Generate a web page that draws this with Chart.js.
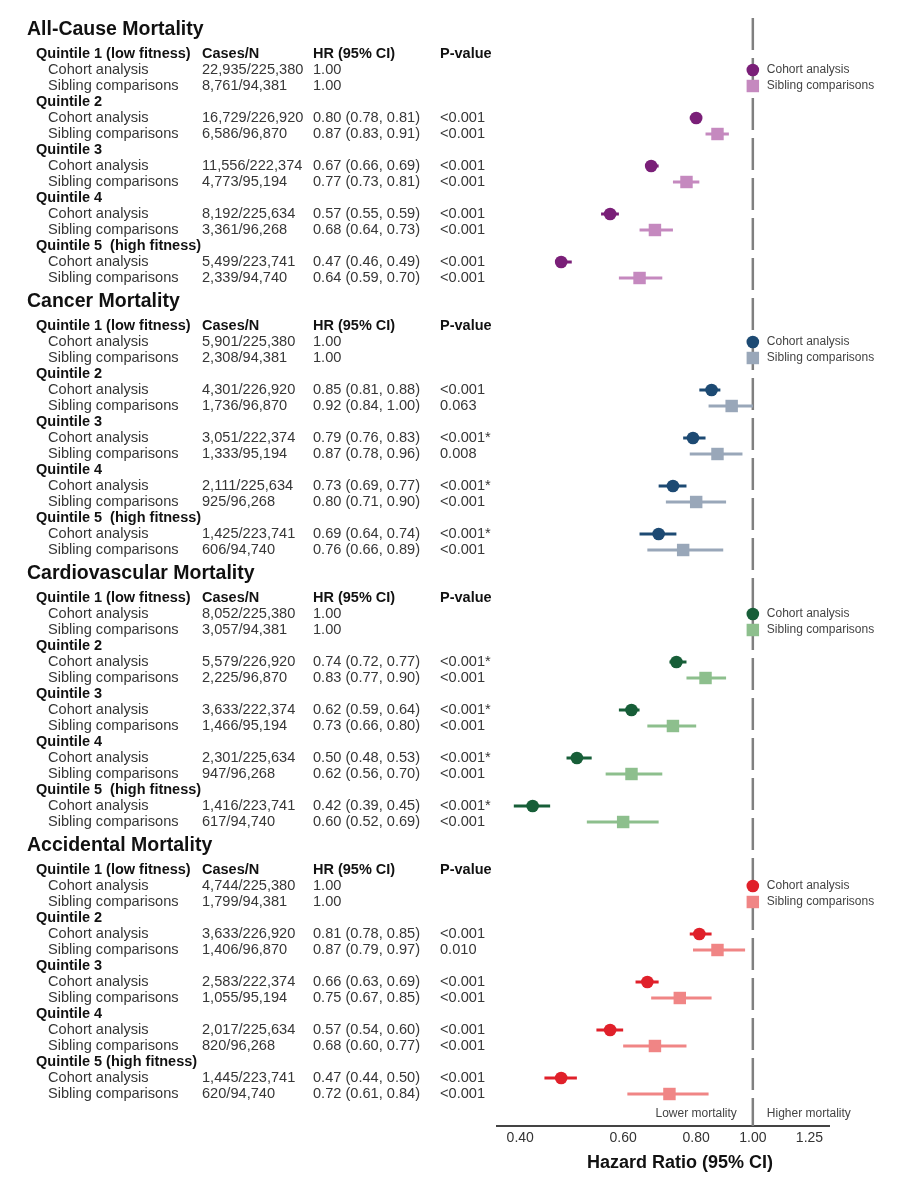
<!DOCTYPE html>
<html>
<head>
<meta charset="utf-8">
<script src="https://cdn.jsdelivr.net/npm/chart.js@4.4.0/dist/chart.umd.min.js"></script>
<style>
  body { margin: 0; background: #fff; }
  canvas { display: block; }
</style>
</head>
<body>
<canvas id="forest" width="913" height="1200"></canvas>
<script>
// ---------------- data ----------------
const sectionTitles = ['All-Cause Mortality', 'Cancer Mortality', 'Cardiovascular Mortality', 'Accidental Mortality']
const quintileNames = ['Quintile 1 (low fitness)', 'Quintile 2', 'Quintile 3', 'Quintile 4']
const quintile5Names = ['Quintile 5  (high fitness)', 'Quintile 5  (high fitness)', 'Quintile 5  (high fitness)', 'Quintile 5 (high fitness)']
const rowNames = ['Cohort analysis', 'Sibling comparisons']
const columnHeads = ['Cases/N', 'HR (95% CI)', 'P-value']
const xTicks = [0.40, 0.60, 0.80, 1.00, 1.25]

const cohortCases = [
  ['22,935/225,380', '16,729/226,920', '11,556/222,374', '8,192/225,634', '5,499/223,741'],
  ['5,901/225,380', '4,301/226,920', '3,051/222,374', '2,111/225,634', '1,425/223,741'],
  ['8,052/225,380', '5,579/226,920', '3,633/222,374', '2,301/225,634', '1,416/223,741'],
  ['4,744/225,380', '3,633/226,920', '2,583/222,374', '2,017/225,634', '1,445/223,741']
]
const siblingCases = [
  ['8,761/94,381', '6,586/96,870', '4,773/95,194', '3,361/96,268', '2,339/94,740'],
  ['2,308/94,381', '1,736/96,870', '1,333/95,194', '925/96,268', '606/94,740'],
  ['3,057/94,381', '2,225/96,870', '1,466/95,194', '947/96,268', '617/94,740'],
  ['1,799/94,381', '1,406/96,870', '1,055/95,194', '820/96,268', '620/94,740']
]
const cohortHR = [[1.00, 0.80, 0.67, 0.57, 0.47], [1.00, 0.85, 0.79, 0.73, 0.69], [1.00, 0.74, 0.62, 0.50, 0.42], [1.00, 0.81, 0.66, 0.57, 0.47]]
const cohortLo = [[null, 0.78, 0.66, 0.55, 0.46], [null, 0.81, 0.76, 0.69, 0.64], [null, 0.72, 0.59, 0.48, 0.39], [null, 0.78, 0.63, 0.54, 0.44]]
const cohortHi = [[null, 0.81, 0.69, 0.59, 0.49], [null, 0.88, 0.83, 0.77, 0.74], [null, 0.77, 0.64, 0.53, 0.45], [null, 0.85, 0.69, 0.60, 0.50]]
const siblingHR = [[1.00, 0.87, 0.77, 0.68, 0.64], [1.00, 0.92, 0.87, 0.80, 0.76], [1.00, 0.83, 0.73, 0.62, 0.60], [1.00, 0.87, 0.75, 0.68, 0.72]]
const siblingLo = [[null, 0.83, 0.73, 0.64, 0.59], [null, 0.84, 0.78, 0.71, 0.66], [null, 0.77, 0.66, 0.56, 0.52], [null, 0.79, 0.67, 0.60, 0.61]]
const siblingHi = [[null, 0.91, 0.81, 0.73, 0.70], [null, 1.00, 0.96, 0.90, 0.89], [null, 0.90, 0.80, 0.70, 0.69], [null, 0.97, 0.85, 0.77, 0.84]]
const cohortP = [
  ['', '<0.001', '<0.001', '<0.001', '<0.001'],
  ['', '<0.001', '<0.001*', '<0.001*', '<0.001*'],
  ['', '<0.001*', '<0.001*', '<0.001*', '<0.001*'],
  ['', '<0.001', '<0.001', '<0.001', '<0.001']
]
const siblingP = [
  ['', '<0.001', '<0.001', '<0.001', '<0.001'],
  ['', '0.063', '0.008', '<0.001', '<0.001'],
  ['', '<0.001', '<0.001', '<0.001', '<0.001'],
  ['', '0.010', '<0.001', '<0.001', '<0.001']
]

// ---------------- styling ----------------
const cohortColors = ['#7a1f78', '#1d4a73', '#175e38', '#e0202a']
const siblingColors = ['#c589bf', '#99a7b9', '#8dbf8d', '#f08585']
const FONT = '"Liberation Sans", Arial, Helvetica, sans-serif'
const SECTION_ROWS = 17

// row positions (in row units) inside the whole figure
const titleRow = (s) => s * SECTION_ROWS
const labelRow = (s, q) => s * SECTION_ROWS + 1.5 + 3 * q
const cohortRow = (s, q) => labelRow(s, q) + 1
const siblingRow = (s, q) => labelRow(s, q) + 2

// ---------------- datasets ----------------
const datasets = []

// reference line at HR = 1
datasets.push({
  data: [{ x: 1, y: -0.75 }, { x: 1, y: 68.5 }],
  showLine: true,
  borderColor: '#808080',
  borderWidth: 2.5,
  borderDash: [32, 8],
  pointRadius: 0,
  order: 3
})

sectionTitles.forEach((title, s) => {
  const cohortCI = []
  const siblingCI = []
  for (let q = 0; q < 5; q++) {
    if (cohortLo[s][q] != null) {
      cohortCI.push({ x: cohortLo[s][q], y: cohortRow(s, q) }, { x: cohortHi[s][q], y: cohortRow(s, q) }, { x: NaN, y: NaN })
    }
    if (siblingLo[s][q] != null) {
      siblingCI.push({ x: siblingLo[s][q], y: siblingRow(s, q) }, { x: siblingHi[s][q], y: siblingRow(s, q) }, { x: NaN, y: NaN })
    }
  }
  datasets.push({
    data: siblingCI, showLine: true, spanGaps: false, pointRadius: 0,
    borderColor: siblingColors[s], borderWidth: 3, order: 2
  })
  datasets.push({
    data: cohortCI, showLine: true, spanGaps: false, pointRadius: 0,
    borderColor: cohortColors[s], borderWidth: 3, order: 2
  })
  datasets.push({
    data: siblingHR[s].map((v, q) => ({ x: v, y: siblingRow(s, q) })),
    pointStyle: 'rect', pointRadius: 8.8, borderWidth: 0,
    backgroundColor: siblingColors[s], borderColor: siblingColors[s], order: 1
  })
  datasets.push({
    data: cohortHR[s].map((v, q) => ({ x: v, y: cohortRow(s, q) })),
    pointStyle: 'circle', pointRadius: 6.3, borderWidth: 0,
    backgroundColor: cohortColors[s], borderColor: cohortColors[s], order: 0
  })
})

// ---------------- table text plugin ----------------
const fmtHR = (hr, lo, hi) => hr.toFixed(2) + (lo != null ? ` (${lo.toFixed(2)}, ${hi.toFixed(2)})` : '')

const tablePlugin = {
  id: 'tableText',
  afterDraw(chart) {
    const ctx = chart.ctx
    const y = chart.scales.y
    const x = chart.scales.x
    const refX = x.getPixelForValue(1)
    ctx.save()
    ctx.textBaseline = 'middle'
    ctx.textAlign = 'left'

    sectionTitles.forEach((title, s) => {
      ctx.fillStyle = '#111'
      ctx.font = `bold 19.5px ${FONT}`
      ctx.fillText(title, 27, y.getPixelForValue(titleRow(s)))

      for (let q = 0; q < 5; q++) {
        const ly = y.getPixelForValue(labelRow(s, q))
        ctx.font = `bold 14.5px ${FONT}`
        ctx.fillStyle = '#111'
        ctx.fillText(q < 4 ? quintileNames[q] : quintile5Names[s], 36, ly)
        if (q === 0) {
          ctx.fillText(columnHeads[0], 202, ly)
          ctx.fillText(columnHeads[1], 313, ly)
          ctx.fillText(columnHeads[2], 440, ly)
        }

        ctx.font = `14.6px ${FONT}`
        ctx.fillStyle = '#363636'
        const cy = y.getPixelForValue(cohortRow(s, q))
        ctx.fillText(rowNames[0], 48, cy)
        ctx.fillText(cohortCases[s][q], 202, cy)
        ctx.fillText(fmtHR(cohortHR[s][q], cohortLo[s][q], cohortHi[s][q]), 313, cy)
        ctx.fillText(cohortP[s][q], 440, cy)

        const sy = y.getPixelForValue(siblingRow(s, q))
        ctx.fillText(rowNames[1], 48, sy)
        ctx.fillText(siblingCases[s][q], 202, sy)
        ctx.fillText(fmtHR(siblingHR[s][q], siblingLo[s][q], siblingHi[s][q]), 313, sy)
        ctx.fillText(siblingP[s][q], 440, sy)
      }

      // labels next to the reference points
      ctx.font = `12px ${FONT}`
      ctx.fillStyle = '#444'
      ctx.fillText(rowNames[0], refX + 14, y.getPixelForValue(cohortRow(s, 0)))
      ctx.fillText(rowNames[1], refX + 14, y.getPixelForValue(siblingRow(s, 0)))
    })

    // direction labels above the axis
    const bottom = chart.chartArea.bottom
    ctx.font = `12px ${FONT}`
    ctx.fillStyle = '#444'
    ctx.textAlign = 'right'
    ctx.fillText('Lower mortality', refX - 16, bottom - 12)
    ctx.textAlign = 'left'
    ctx.fillText('Higher mortality', refX + 14, bottom - 12)

    // axis title
    ctx.textAlign = 'center'
    ctx.font = `bold 18px ${FONT}`
    ctx.fillStyle = '#111'
    ctx.fillText('Hazard Ratio (95% CI)', 680, bottom + 37)
    ctx.restore()
  }
}

new Chart(document.getElementById('forest'), {
  type: 'scatter',
  data: { datasets },
  options: {
    responsive: false,
    animation: false,
    events: [],
    layout: { padding: { left: 497, right: 84, top: 18, bottom: 0 } },
    plugins: { legend: { display: false }, tooltip: { enabled: false } },
    scales: {
      x: {
        type: 'logarithmic',
        min: 0.365,
        max: 1.35,
        position: 'bottom',
        afterBuildTicks: (scale) => { scale.ticks = xTicks.map(v => ({ value: v })) },
        afterFit: (scale) => { scale.height = 74 },
        grid: { display: false, drawTicks: false },
        border: { display: true, color: '#444', width: 2 },
        ticks: {
          padding: 4,
          color: '#333',
          font: { family: FONT, size: 14 },
          autoSkip: false,
          maxRotation: 0,
          callback: (v) => Number(v).toFixed(2)
        }
      },
      y: {
        type: 'linear',
        display: false,
        reverse: true,
        min: -0.75,
        max: 68.5
      }
    }
  },
  plugins: [tablePlugin]
})
</script>
</body>
</html>
